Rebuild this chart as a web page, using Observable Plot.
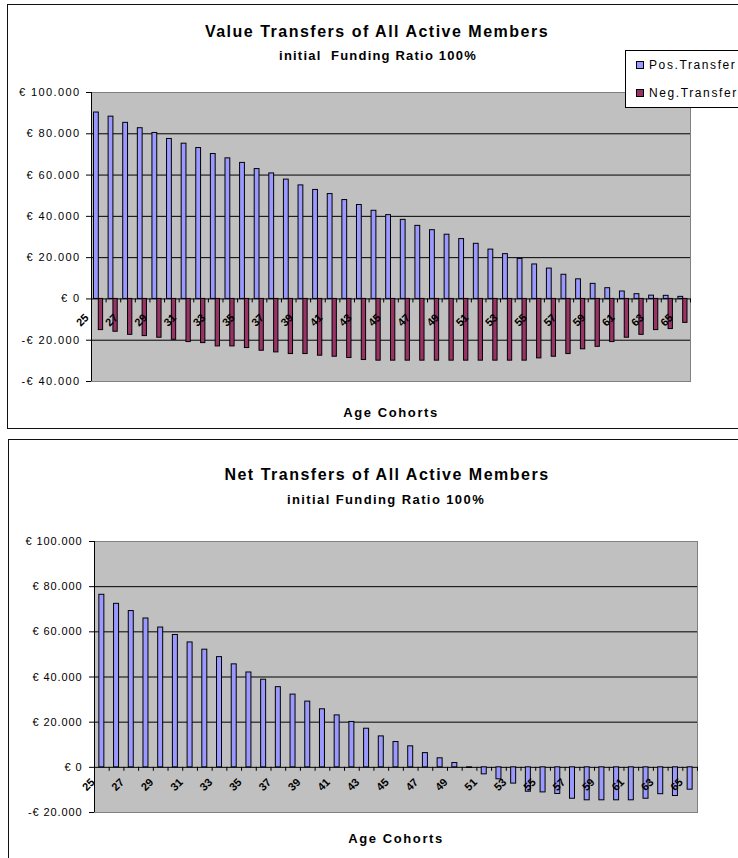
<!DOCTYPE html>
<html>
<head>
<meta charset="utf-8">
<script src="https://cdn.jsdelivr.net/npm/d3@7"></script>
<script src="https://cdn.jsdelivr.net/npm/@observablehq/plot@0.6"></script>
<style>
  body { margin: 0; background: #fff; font-family: "Liberation Sans", Arial, sans-serif; }
  #root { position: relative; width: 738px; height: 858px; overflow: hidden; background: #fff; }
  .frame { position: absolute; border: 1px solid #111; box-sizing: border-box; background: #fff; }
  .t { position: absolute; font-weight: bold; color: #000; white-space: pre; transform: translateX(-50%); line-height: 1; }
  .chart { position: absolute; left: 0; }
  .legend { position: absolute; left: 625px; top: 50px; width: 200px; height: 58px; border: 1px solid #000; background: #fff; box-sizing: border-box; font-size: 12px; letter-spacing: 1.6px; }
  .legend .row { position: absolute; left: 10px; display: flex; align-items: center; line-height: 1; }
  .legend .sw { width: 6px; height: 6px; border: 1px solid #000; margin-right: 5px; }
</style>
</head>
<body>
<div id="root">
  <div class="frame" style="left:7px;top:4px;width:800px;height:425px;"></div>
  <div class="frame" style="left:8px;top:439px;width:800px;height:460px;"></div>

  <div class="t" id="title1" style="left:377px;top:24px;font-size:16px;letter-spacing:1.5px;"></div>
  <div class="t" id="sub1" style="left:378px;top:49px;font-size:13px;letter-spacing:1.2px;"></div>
  <div class="t" id="xlab1" style="left:391px;top:406px;font-size:13px;letter-spacing:1.6px;"></div>

  <div class="t" id="title2" style="left:387px;top:467px;font-size:16px;letter-spacing:1.5px;"></div>
  <div class="t" id="sub2" style="left:386px;top:493px;font-size:13px;letter-spacing:1.4px;"></div>
  <div class="t" id="xlab2" style="left:396px;top:832px;font-size:13px;letter-spacing:1.6px;"></div>

  <div id="c1" class="chart" style="top:80px;"></div>
  <div id="c2" class="chart" style="top:530px;"></div>

  <div class="legend" id="legend"></div>
</div>
<script>
// ---- data ----
const ages = [25,26,27,28,29,30,31,32,33,34,35,36,37,38,39,40,41,42,43,44,45,
              46,47,48,49,50,51,52,53,54,55,56,57,58,59,60,61,62,63,64,65];
const labelAges = [25,27,29,31,33,35,37,39,41,43,45,47,49,51,53,55,57,59,61,63,65];

const posTransfer = [90300,88300,85300,82700,80400,77500,75200,73100,70200,68100,65900,
                     62900,60800,57800,55000,52800,50800,47900,45500,42700,40600,38300,
                     35400,33300,31100,29000,26700,23900,21700,19400,16700,14700,11700,
                     9500,7300,5200,3600,2300,1600,1500,1000];
const negTransfer = [-15100,-15900,-17400,-18000,-18800,-19800,-20900,-21400,-23000,-23000,
                     -23800,-25100,-25900,-26700,-26700,-27500,-28000,-28600,-29600,-29900,
                     -29900,-29900,-29900,-29900,-29900,-29900,-29900,-29900,-29900,-29900,
                     -28800,-28000,-26700,-24400,-23200,-20900,-18800,-17400,-15100,-14600,-11600];
const netTransfer = [76400,72400,69200,65900,61900,58600,55300,52100,48800,45600,42000,
                     38800,35500,32200,29100,25700,23000,20100,17100,13700,11200,9300,
                     6300,4000,1900,-300,-3100,-5300,-7200,-10800,-11100,-11800,-13900,
                     -14600,-14600,-14600,-14600,-13900,-11900,-12700,-9900];

const seriesNames = ["Pos.Transfer", "Neg.Transfer"];
const seriesColors = ["#9999ff", "#993366"];

const yDomain1 = [-40000, 100000];
const yTicks1 = [100000, 80000, 60000, 40000, 20000, 0, -20000, -40000];
const grid1 = [80000, 60000, 40000, 20000, 0, -20000];

const yDomain2 = [-20000, 100000];
const yTicks2 = [100000, 80000, 60000, 40000, 20000, 0, -20000];
const grid2 = [80000, 60000, 40000, 20000, 0];

const title1 = "Value Transfers of All Active Members";
const subtitle1 = "initial  Funding Ratio 100%";
const title2 = "Net Transfers of All Active Members";
const subtitle2 = "initial Funding Ratio 100%";
const xTitle = "Age Cohorts";

// ---- text ----
document.getElementById("title1").textContent = title1;
document.getElementById("sub1").textContent = subtitle1;
document.getElementById("xlab1").textContent = xTitle;
document.getElementById("title2").textContent = title2;
document.getElementById("sub2").textContent = subtitle2;
document.getElementById("xlab2").textContent = xTitle;

const legend = document.getElementById("legend");
seriesNames.forEach((name, i) => {
  const row = document.createElement("div");
  row.className = "row";
  row.style.top = (i === 0 ? 8 : 36) + "px";
  const sw = document.createElement("span");
  sw.className = "sw";
  sw.style.background = seriesColors[i];
  const tx = document.createElement("span");
  tx.textContent = name;
  row.appendChild(sw); row.appendChild(tx);
  legend.appendChild(row);
});

const fmtEuro = d => (d < 0 ? "-" : "") + "€ " + d3.format(",")(Math.abs(d)).replace(/,/g, ".");
const baseStyle = {fontFamily: "'Liberation Sans', Arial, sans-serif", color: "#000", background: "transparent", overflow: "visible"};

function spaceTicks(svg, px) {
  svg.querySelectorAll('[aria-label="y-axis tick label"] text').forEach(t => t.style.letterSpacing = px);
}

// ---- chart 1 ----
const rows1 = ages.map((a, i) => ({age: a, pos: posTransfer[i], neg: negTransfer[i]}));
const L1 = 91, R1 = 690;
const bw1 = (R1 - L1) / ages.length;
const chart1 = Plot.plot({
  width: 738, height: 311,
  marginLeft: L1, marginRight: 738 - R1, marginTop: 12, marginBottom: 10,
  style: baseStyle,
  x: {type: "band", domain: ages, padding: 0, round: false, axis: null},
  y: {domain: yDomain1, axis: null, label: null},
  marks: [
    Plot.frame({fill: "#c0c0c0", stroke: "#808080"}),
    Plot.ruleY(grid1, {stroke: "#000", strokeWidth: 1}),
    Plot.barY(rows1, {x: "age", y: "pos", fill: seriesColors[0], stroke: "#000", strokeWidth: 1, insetLeft: 2.5, insetRight: bw1 / 2}),
    Plot.barY(rows1, {x: "age", y: "neg", fill: seriesColors[1], stroke: "#000", strokeWidth: 1, insetLeft: bw1 / 2, insetRight: 3}),
    Plot.ruleX(ages, {x: d => d, y1: 0, y2: 0, insetBottom: -4, dx: bw1 / 2, stroke: "#000"}),
    Plot.ruleX([ages[0]], {x: d => d, dx: -bw1 / 2, stroke: "#000"}),
    Plot.axisY(yTicks1, {tickFormat: fmtEuro, tickSize: 5, tickPadding: 6, fontSize: 11, stroke: "#000", fill: "#000", label: null}),
    Plot.text(labelAges, {x: d => d, y: 0, text: d => String(d), rotate: -45, textAnchor: "end", dx: -12, dy: 17, fontSize: 11, fontWeight: "bold", fill: "#000"})
  ]
});
spaceTicks(chart1, "1.4px");
document.getElementById("c1").appendChild(chart1);

// ---- chart 2 ----
const rows2 = ages.map((a, i) => ({age: a, net: netTransfer[i]}));
const L2 = 94, R2 = 697;
const bw2 = (R2 - L2) / ages.length;
const chart2 = Plot.plot({
  width: 738, height: 292,
  marginLeft: L2, marginRight: 738 - R2, marginTop: 11, marginBottom: 10,
  style: baseStyle,
  x: {type: "band", domain: ages, padding: 0, round: false, axis: null},
  y: {domain: yDomain2, axis: null, label: null},
  marks: [
    Plot.frame({fill: "#c0c0c0", stroke: "#808080"}),
    Plot.ruleY(grid2, {stroke: "#000", strokeWidth: 1}),
    Plot.barY(rows2, {x: "age", y: "net", fill: seriesColors[0], stroke: "#000", strokeWidth: 1, insetLeft: (bw2 - 5) / 2, insetRight: (bw2 - 5) / 2}),
    Plot.ruleX(ages, {x: d => d, y1: 0, y2: 0, insetBottom: -4, dx: bw2 / 2, stroke: "#000"}),
    Plot.ruleX([ages[0]], {x: d => d, dx: -bw2 / 2, stroke: "#000"}),
    Plot.axisY(yTicks2, {tickFormat: fmtEuro, tickSize: 5, tickPadding: 7, fontSize: 11, stroke: "#000", fill: "#000", label: null}),
    Plot.text(labelAges, {x: d => d, y: 0, text: d => String(d), rotate: -45, textAnchor: "end", dx: -9, dy: 13, fontSize: 11, fontWeight: "bold", fill: "#000"})
  ]
});
spaceTicks(chart2, "0.9px");
document.getElementById("c2").appendChild(chart2);
</script>
</body>
</html>
